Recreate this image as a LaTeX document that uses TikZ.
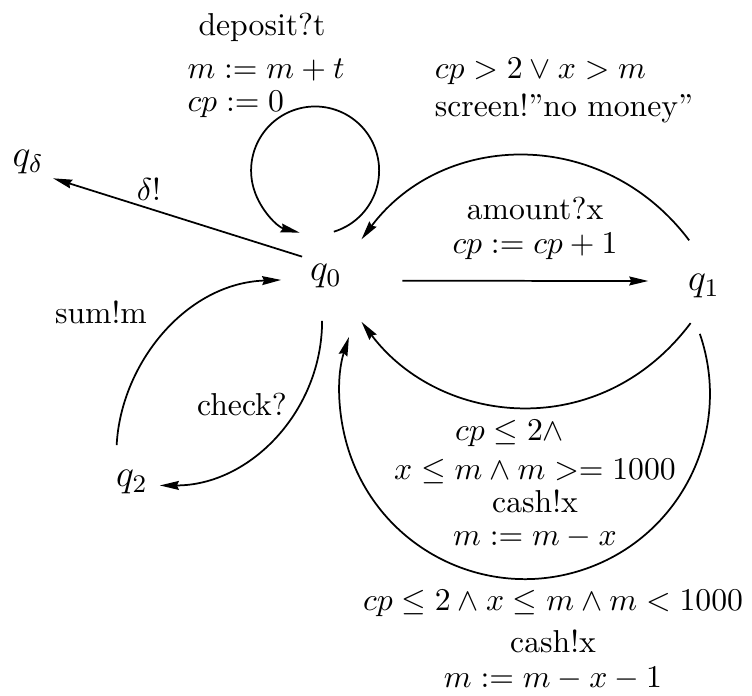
\documentclass[tikz,border=0pt]{standalone}
\usepackage{amsmath,amssymb}
\usetikzlibrary{arrows.meta}
\tikzset{
  state/.style={circle,draw=none,inner sep=0pt,outer sep=0pt,font=\large},
  lbl/.style={inner sep=0pt,font=\normalsize},
  ar/.style={-{Stealth[length=6pt,width=2.8pt,inset=0.6pt]},line width=0.55pt},
}
\begin{document}
\begin{tikzpicture}[x=0.3155pt,y=0.3155pt]
  \useasboundingbox (0,0) rectangle (752,-695);
  % states
  \node[state,minimum size=28.4pt] (q0) at (326,-276) {$q_0$};
  \node[state,minimum size=30.3pt] (q1) at (704,-286) {$q_1$};
  \node[state,minimum size=18.9pt] (qd) at (28,-162) {$q_\delta$};
  \node[state,minimum size=17.7pt] (q2) at (132,-482) {$q_2$};
  % labels
  \node[lbl] (ldep) at (262,-27) {deposit?t};
  \node[lbl,align=left] (ldepup) at (266,-88) {$m := m+t$\\[-1.5pt]$cp := 0$};
  \node[lbl,align=left] (lnomoney) at (564,-91) {$cp > 2 \vee x > m$\\screen!''no money''};
  \node[lbl,align=center] (lamount) at (535,-228) {amount?x\\[-1.3pt]$cp := cp+1$};
  \node[lbl] (ldelta) at (149,-189) {$\delta!$};
  \node[lbl] (lsum) at (101,-312) {sum!m};
  \node[lbl] (lcheck) at (242,-404) {check?};
  \node[lbl,align=center] (lcash) at (535,-484)
    {$cp \leq 2\wedge$\hspace*{16pt}\\[0.4pt]$x \leq m \wedge m >= 1000$\\[-1.6pt]cash!x\\[-1.6pt]$m := m-x$};
  \node[lbl,align=center] (lcashlow) at (553,-640)
    {$cp \leq 2 \wedge x \leq m \wedge m < 1000$\\[1.2pt]cash!x\\[-1pt]$m := m-x-1$};
  % transitions
  \draw[ar] (q0.80) arc[start angle=-73,end angle=256,radius=64];
  \draw[ar,shorten <=-4.7pt] (q0.148) -- (qd.-33);
  \draw[ar,shorten <=10pt,shorten >=2.5pt] (q0.-6) -- (q1.174);
  \draw[ar,shorten >=1.9pt] (q1.108) to[out=127,in=53,looseness=1.1] (q0.45);
  \draw[ar,shorten <=-2.8pt,shorten >=4.1pt] (q1.-113) to[out=-127,in=-53,looseness=1.1] (q0.-52);
  \draw[ar] (q1.-95) arc[start angle=19,end angle=-198,radius=185];
  \draw[ar,shorten <=4.4pt] (q2.125) to[out=87,in=182] (q0.185);
  \draw[ar] (q0.-95) to[out=-90,in=0] (q2.-7);
\end{tikzpicture}
\end{document}
